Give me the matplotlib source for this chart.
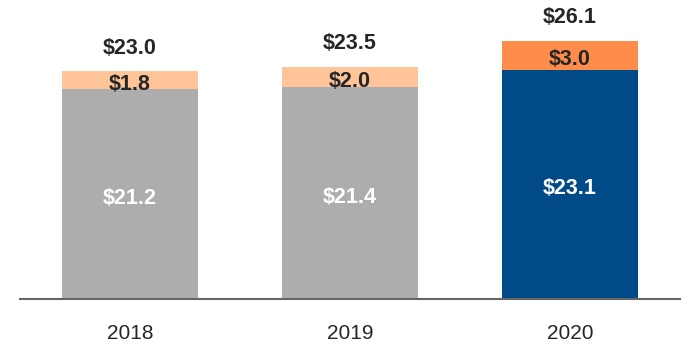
import numpy as np
import matplotlib
matplotlib.use('Agg')
import matplotlib.pyplot as plt

plt.rcParams['font.family'] = ['Liberation Sans', 'DejaVu Sans']

years = ['2018', '2019', '2020']
base = [21.2, 21.4, 23.1]
extra = [1.8, 2.0, 3.0]
totals = [23.0, 23.5, 26.1]
base_colors = ['#adadad', '#adadad', '#004b87']
extra_colors = ['#ffc599', '#ffc599', '#ff8c4b']

fig = plt.figure(figsize=(7, 3.6), dpi=100)
ax = fig.add_axes([20/700, 61/360, 660/700, 299/360])

x = np.arange(len(years))
w = 0.618
ax.bar(x, base, w, color=base_colors)
ax.bar(x, extra, w, bottom=base, color=extra_colors)

for i in range(len(years)):
    ax.annotate('$%.1f' % base[i], (x[i], base[i]/2), xytext=(0, -3),
                textcoords='offset points', ha='center', va='center',
                color='white', fontsize=15.5, fontweight='bold')
    ax.annotate('$%.1f' % extra[i], (x[i], base[i] + extra[i]/2), xytext=(0, -3),
                textcoords='offset points', ha='center', va='center',
                color='#262626', fontsize=15.5, fontweight='bold')
    ax.annotate('$%.1f' % totals[i], (x[i], totals[i]), xytext=(0, 9),
                textcoords='offset points', ha='center', va='bottom',
                color='#262626', fontsize=15.5, fontweight='bold')

ax.set_xlim(-0.5, 2.5)
ax.set_ylim(0, 30.2)
ax.set_xticks(x)
ax.set_xticklabels(years, fontsize=15, color='#262626')
ax.tick_params(axis='x', length=0, pad=18)
ax.set_yticks([])
for s in ['top', 'right', 'left']:
    ax.spines[s].set_visible(False)
ax.spines['bottom'].set_color('#666666')
ax.spines['bottom'].set_linewidth(1.5)

fig.savefig('out.png', dpi=100)
